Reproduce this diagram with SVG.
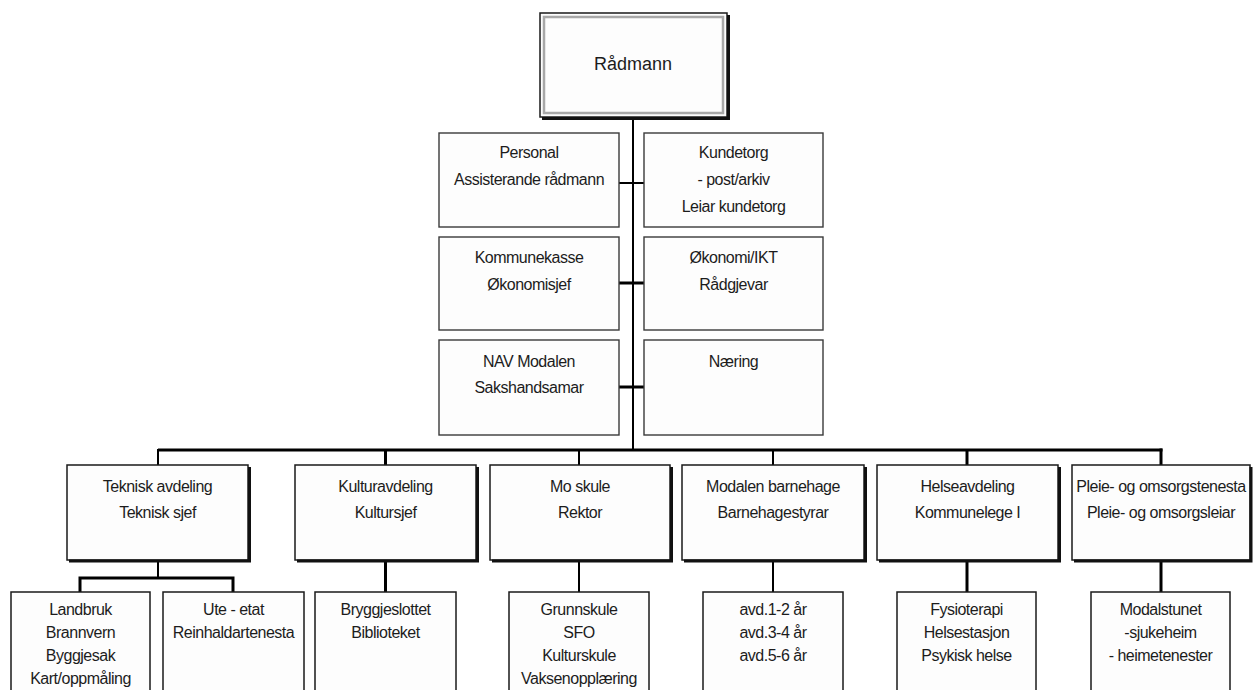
<svg xmlns="http://www.w3.org/2000/svg" width="1253" height="690" viewBox="0 0 1253 690">
<style>
text{font-family:"Liberation Sans",Arial,sans-serif;font-size:16px;fill:#1c1c1c;text-anchor:middle;letter-spacing:-0.5px}
.top{font-size:18px;letter-spacing:0}
.box{fill:#fdfdfd;stroke:#1a1a1a;stroke-width:1.5}
.mid{fill:#fdfdfd;stroke:#3a3a3a;stroke-width:1.4}
.inner{fill:none;stroke:#a8a8a8;stroke-width:2.5}
.sh{fill:none;stroke:#111;stroke-width:3}
.c{fill:none;stroke:#000;stroke-width:2}
.t{fill:none;stroke:#000;stroke-width:3}
</style>
<rect width="1253" height="690" fill="#fff"/>
<g id="connectors">
<path class="c" d="M633 117V450"/>
<path class="c" d="M619 183H644"/>
<path class="t" d="M619 283H644"/>
<path class="t" d="M619 387H644"/>
<path class="t" d="M158 450H1162.5"/>
<path class="c" d="M158 449V465"/>
<path class="t" d="M385.5 450V465"/>
<path class="c" d="M579 450V465"/>
<path class="c" d="M773 450V465"/>
<path class="t" d="M967 450V465"/>
<path class="t" d="M1161 448.5V465"/>
<path class="c" d="M158 560V578"/>
<path class="t" d="M80 592V578H233V592"/>
<path class="t" d="M385.5 560V592"/>
<path class="c" d="M579 560V592"/>
<path class="c" d="M773 560V592"/>
<path class="t" d="M967 560V592"/>
<path class="t" d="M1161 560V592"/>
</g>
<g id="radmann">
<rect class="box" x="540" y="13" width="187" height="104"/>
<path class="sh" d="M542 118.5H728.5V15"/>
<rect class="inner" x="544" y="17" width="179" height="96"/>
<text class="top" x="633" y="70">Rådmann</text>
</g>
<g id="personal">
<rect class="mid" x="439" y="133" width="180" height="94"/>
<text x="529" y="158">Personal</text>
<text x="529" y="185">Assisterande rådmann</text>
</g>
<g id="kundetorg">
<rect class="mid" x="644" y="133" width="179" height="94"/>
<text x="733.5" y="158">Kundetorg</text>
<text x="733.5" y="185">- post/arkiv</text>
<text x="733.5" y="212">Leiar kundetorg</text>
</g>
<g id="kommunekasse">
<rect class="mid" x="439" y="237" width="180" height="93"/>
<text x="529" y="263">Kommunekasse</text>
<text x="529" y="290">Økonomisjef</text>
</g>
<g id="okonomi">
<rect class="mid" x="644" y="237" width="179" height="93"/>
<text x="733.5" y="263">Økonomi/IKT</text>
<text x="733.5" y="290">Rådgjevar</text>
</g>
<g id="nav">
<rect class="mid" x="439" y="340" width="180" height="95"/>
<text x="529" y="367">NAV Modalen</text>
<text x="529" y="393">Sakshandsamar</text>
</g>
<g id="naering">
<rect class="mid" x="644" y="340" width="179" height="95"/>
<text x="733.5" y="367">Næring</text>
</g>
<g id="teknisk">
<rect class="box" x="67" y="465" width="181" height="95"/>
<path class="sh" d="M69 561H249.5V467"/>
<text x="157.5" y="492">Teknisk avdeling</text>
<text x="157.5" y="518">Teknisk sjef</text>
</g>
<g id="kultur">
<rect class="box" x="295" y="465" width="181" height="95"/>
<path class="sh" d="M297 561H477.5V467"/>
<text x="385.5" y="492">Kulturavdeling</text>
<text x="385.5" y="518">Kultursjef</text>
</g>
<g id="moskule">
<rect class="box" x="490" y="465" width="180" height="95"/>
<path class="sh" d="M492 561H671.5V467"/>
<text x="580" y="492">Mo skule</text>
<text x="580" y="518">Rektor</text>
</g>
<g id="barnehage">
<rect class="box" x="682" y="465" width="182" height="95"/>
<path class="sh" d="M684 561H865.5V467"/>
<text x="773" y="492">Modalen barnehage</text>
<text x="773" y="518">Barnehagestyrar</text>
</g>
<g id="helse">
<rect class="box" x="877" y="465" width="181" height="95"/>
<path class="sh" d="M879 561H1059.5V467"/>
<text x="967.5" y="492">Helseavdeling</text>
<text x="967.5" y="518">Kommunelege I</text>
</g>
<g id="pleie">
<rect class="box" x="1072" y="465" width="178" height="95"/>
<path class="sh" d="M1074 561H1251V467"/>
<text x="1161" y="492">Pleie- og omsorgstenesta</text>
<text x="1161" y="518">Pleie- og omsorgsleiar</text>
</g>
<g id="landbruk">
<rect class="box" x="11" y="592" width="139" height="110"/>
<text x="80.5" y="615">Landbruk</text>
<text x="80.5" y="638">Brannvern</text>
<text x="80.5" y="661">Byggjesak</text>
<text x="80.5" y="684">Kart/oppmåling</text>
</g>
<g id="uteetat">
<rect class="box" x="163" y="592" width="141" height="110"/>
<text x="233.5" y="615">Ute - etat</text>
<text x="233.5" y="638">Reinhaldartenesta</text>
</g>
<g id="bryggjeslottet">
<rect class="box" x="315" y="592" width="141" height="110"/>
<text x="385.5" y="615">Bryggjeslottet</text>
<text x="385.5" y="638">Biblioteket</text>
</g>
<g id="grunnskule">
<rect class="box" x="509" y="592" width="140" height="110"/>
<text x="579" y="615">Grunnskule</text>
<text x="579" y="638">SFO</text>
<text x="579" y="661">Kulturskule</text>
<text x="579" y="684">Vaksenopplæring</text>
</g>
<g id="avd">
<rect class="box" x="703" y="592" width="140" height="110"/>
<text x="773" y="615">avd.1-2 år</text>
<text x="773" y="638">avd.3-4 år</text>
<text x="773" y="661">avd.5-6 år</text>
</g>
<g id="fysioterapi">
<rect class="box" x="897" y="592" width="139" height="110"/>
<text x="966.5" y="615">Fysioterapi</text>
<text x="966.5" y="638">Helsestasjon</text>
<text x="966.5" y="661">Psykisk helse</text>
</g>
<g id="modalstunet">
<rect class="box" x="1091" y="592" width="139" height="110"/>
<text x="1160.5" y="615">Modalstunet</text>
<text x="1160.5" y="638">-sjukeheim</text>
<text x="1160.5" y="661">- heimetenester</text>
</g>
</svg>
